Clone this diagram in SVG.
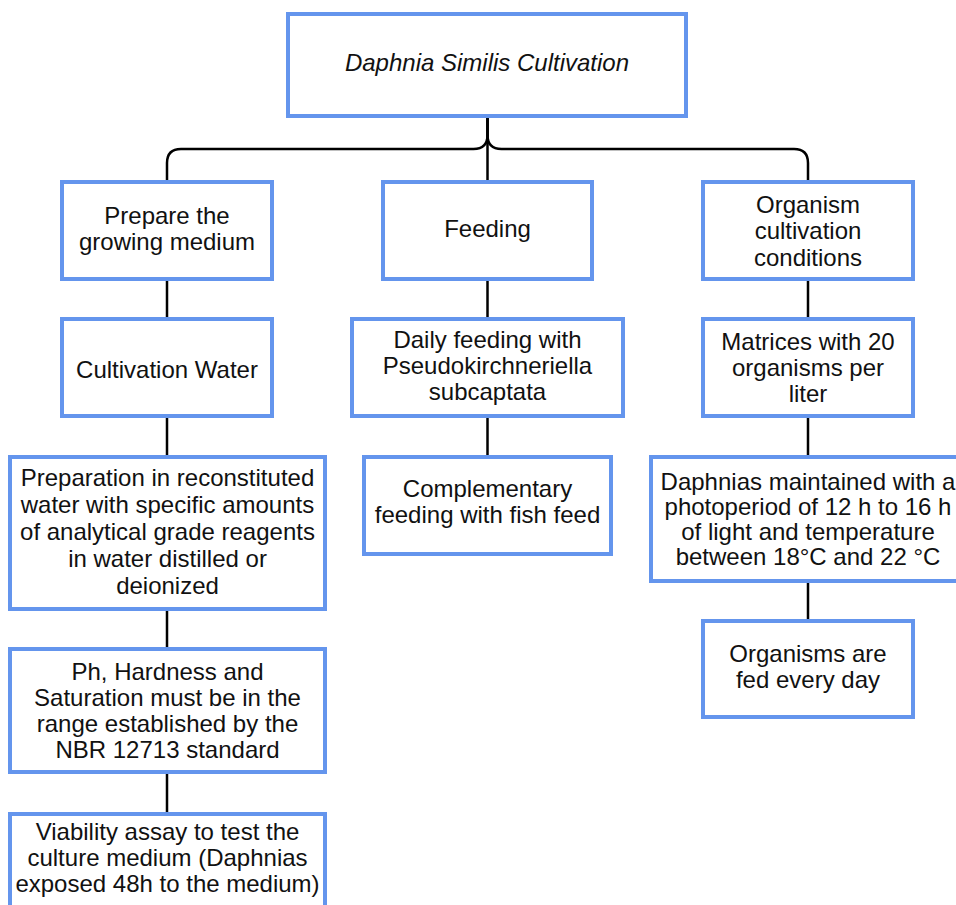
<svg xmlns="http://www.w3.org/2000/svg" width="956" height="905" viewBox="0 0 956 905">
<style>
.box{fill:#ffffff;stroke:#6495ED;stroke-width:4}
.lbl{font-family:"Liberation Sans",Arial,Helvetica,sans-serif;font-size:24px;fill:#111111;text-anchor:middle}
.it{font-style:italic}
.edge{fill:none;stroke:#000000;stroke-width:2.5}
</style>
<rect width="956" height="905" fill="#ffffff"/>
<g id="connectors">
<path class="edge" d="M487.5,118 V182"/>
<path class="edge" d="M487.5,118 V135 Q487.5,149 473.5,149 H181 Q167,149 167,163 V182"/>
<path class="edge" d="M487.5,118 V135 Q487.5,149 501.5,149 H794 Q808,149 808,163 V182"/>
<path class="edge" d="M167,279 V319 M167,416 V457 M167,609 V649 M167,772 V814"/>
<path class="edge" d="M487.5,279 V319 M487.5,416 V457"/>
<path class="edge" d="M808,279 V319 M808,416 V457 M808,581 V621"/>
</g>
<g id="root">
<rect class="box" x="288" y="14" width="398" height="102"/>
<text class="lbl it" x="487" y="71">Daphnia Similis Cultivation</text>
</g>
<g id="prepare">
<rect class="box" x="62" y="182" width="210" height="97"/>
<text class="lbl" x="167" y="224">Prepare the</text>
<text class="lbl" x="167" y="250">growing medium</text>
</g>
<g id="feeding">
<rect class="box" x="383" y="182" width="209" height="97"/>
<text class="lbl" x="487.5" y="237">Feeding</text>
</g>
<g id="conditions">
<rect class="box" x="703" y="182" width="210" height="97"/>
<text class="lbl" x="808" y="212.5">Organism</text>
<text class="lbl" x="808" y="239">cultivation</text>
<text class="lbl" x="808" y="265.5">conditions</text>
</g>
<g id="water">
<rect class="box" x="62" y="319" width="210" height="97"/>
<text class="lbl" x="167" y="377.5">Cultivation Water</text>
</g>
<g id="daily">
<rect class="box" x="352" y="319" width="271" height="97"/>
<text class="lbl" x="487.5" y="347.5">Daily feeding with</text>
<text class="lbl" x="487.5" y="374">Pseudokirchneriella</text>
<text class="lbl" x="487.5" y="400">subcaptata</text>
</g>
<g id="matrices">
<rect class="box" x="703" y="319" width="210" height="97"/>
<text class="lbl" x="808" y="349.5">Matrices with 20</text>
<text class="lbl" x="808" y="376">organisms per</text>
<text class="lbl" x="808" y="402">liter</text>
</g>
<g id="preparation">
<rect class="box" x="10" y="457" width="315" height="152"/>
<text class="lbl" x="167.5" y="486">Preparation in reconstituted</text>
<text class="lbl" x="167.5" y="513">water with specific amounts</text>
<text class="lbl" x="167.5" y="540">of analytical grade reagents</text>
<text class="lbl" x="167.5" y="567">in water distilled or</text>
<text class="lbl" x="167.5" y="594">deionized</text>
</g>
<g id="complementary">
<rect class="box" x="364" y="457" width="247" height="97"/>
<text class="lbl" x="487.5" y="496.5">Complementary</text>
<text class="lbl" x="487.5" y="522.5">feeding with fish feed</text>
</g>
<g id="photoperiod">
<rect class="box" x="651" y="457" width="314" height="124"/>
<text class="lbl" x="808" y="489.5">Daphnias maintained with a</text>
<text class="lbl" x="808" y="514.5">photoperiod of 12 h to 16 h</text>
<text class="lbl" x="808" y="539.5">of light and temperature</text>
<text class="lbl" x="808" y="565">between 18°C and 22 °C</text>
</g>
<g id="fed">
<rect class="box" x="703" y="621" width="210" height="96"/>
<text class="lbl" x="808" y="661.5">Organisms are</text>
<text class="lbl" x="808" y="688">fed every day</text>
</g>
<g id="ph">
<rect class="box" x="10" y="649" width="315" height="123"/>
<text class="lbl" x="167.5" y="679.5">Ph, Hardness and</text>
<text class="lbl" x="167.5" y="706">Saturation must be in the</text>
<text class="lbl" x="167.5" y="732">range established by the</text>
<text class="lbl" x="167.5" y="758">NBR 12713 standard</text>
</g>
<g id="viability">
<rect class="box" x="10" y="814" width="315" height="124"/>
<text class="lbl" x="167.5" y="839.5">Viability assay to test the</text>
<text class="lbl" x="167.5" y="866">culture medium (Daphnias</text>
<text class="lbl" x="167.5" y="892">exposed 48h to the medium)</text>
</g>
</svg>
